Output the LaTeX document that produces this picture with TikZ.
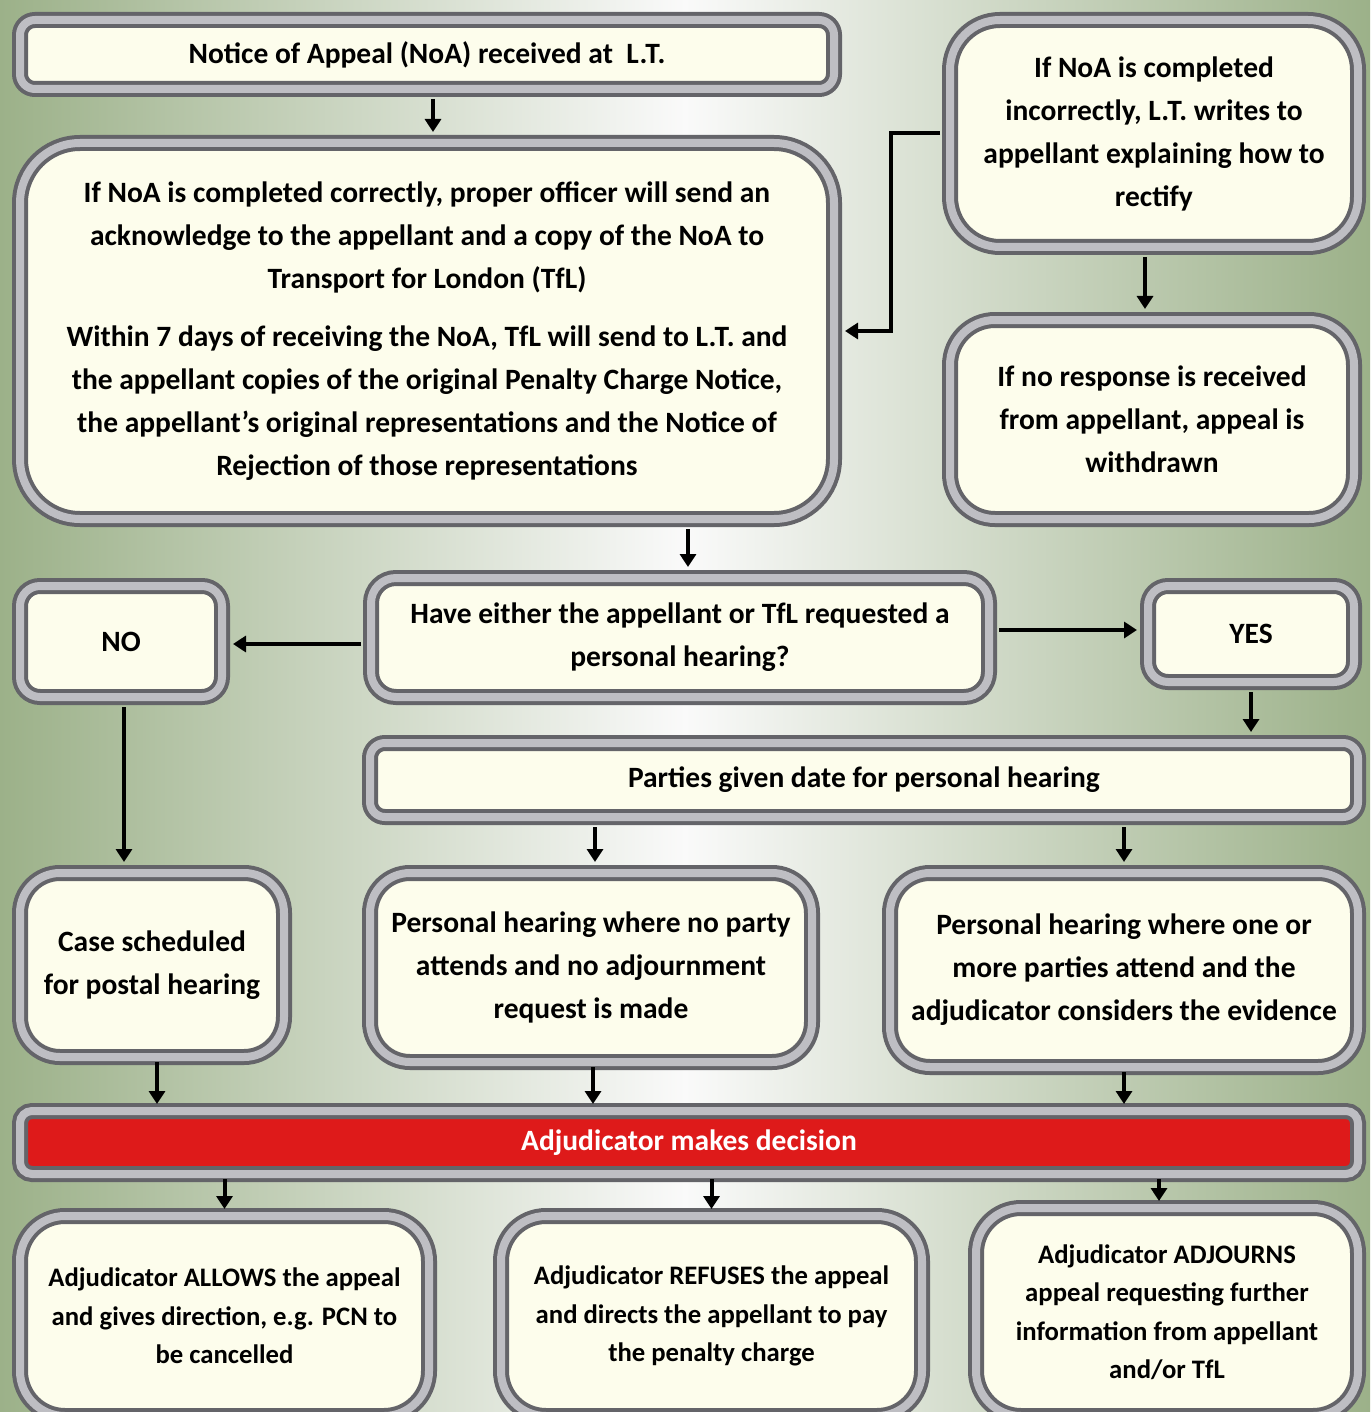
\documentclass[tikz,border=0pt]{standalone}
\usepackage{fontspec}
\setmainfont{Carlito}
\usetikzlibrary{arrows.meta}
\definecolor{bggreen}{RGB}{156,177,137}
\definecolor{cream}{RGB}{253,253,236}
\definecolor{rimdark}{RGB}{100,100,105}
\definecolor{rimlight}{RGB}{190,190,195}
\definecolor{decred}{RGB}{222,26,26}
\tikzset{
  box/.style={draw=rimdark,fill=cream,line width=4pt,double=rimlight,double distance=8pt,
    align=center,inner sep=0pt,font=\fontsize{29.5}{43}\selectfont\bfseries},
  lowbox/.style={box,font=\fontsize{26.7}{38.5}\selectfont\bfseries},
  arr/.style={line width=4pt,-{Triangle[width=16pt,length=13pt]},shorten <=8pt,shorten >=9pt},
  shortarr/.style={arr,shorten <=3pt,shorten >=5pt}
}
\begin{document}
\begin{tikzpicture}[x=1pt,y=-1pt]
  \useasboundingbox (0,0) rectangle (1370,1412);
  \clip (0,0) rectangle (1370,1412);
  \fill[left color=bggreen,right color=bggreen,middle color=white!96!gray] (0,0) rectangle (1370,1412);

  \node[box,rounded corners=15pt,minimum width=814pt,minimum height=69pt](noa)at(427,54.5){Notice of Appeal (NoA) received at\ \ L.T.};
  \node[box,rounded corners=60pt,minimum width=814pt,minimum height=376pt](correct)at(427,331){If NoA is completed correctly, proper officer will send an\\acknowledge to the appellant and a copy of the NoA to\\Transport for London (TfL)\\[15pt]Within 7 days of receiving the NoA, TfL will send to L.T. and\\the appellant copies of the original Penalty Charge Notice,\\the appellant’s original representations and the Notice of\\Rejection of those representations};
  \node[box,rounded corners=50pt,minimum width=408pt,minimum height=227pt](incorrect)at(1154,133.5){If NoA is completed\\incorrectly, L.T. writes to\\appellant explaining how to\\rectify};
  \node[box,rounded corners=45pt,minimum width=404pt,minimum height=199pt](noresp)at(1152,419.5){If no response is received\\from appellant, appeal is\\withdrawn};
  \node[box,rounded corners=25pt,minimum width=618pt,minimum height=119pt](question)at(680,637.5){Have either the appellant or TfL requested a\\personal hearing?};
  \node[box,rounded corners=20pt,minimum width=202pt,minimum height=111pt](no)at(121,641.5){NO};
  \node[box,rounded corners=20pt,minimum width=206pt,minimum height=96pt](yes)at(1251,634){YES};
  \node[box,rounded corners=15pt,minimum width=988pt,minimum height=74pt](parties)at(864,780){Parties given date for personal hearing};
  \node[box,rounded corners=40pt,minimum width=264pt,minimum height=184pt](postal)at(152,965){Case scheduled\\for postal hearing};
  \node[box,rounded corners=40pt,minimum width=442pt,minimum height=189pt](noparty)at(591,967.5){Personal hearing where no party\\attends and no adjournment\\request is made};
  \node[box,rounded corners=40pt,minimum width=468pt,minimum height=194pt](oneparty)at(1124,970){Personal hearing where one or\\more parties attend and the\\adjudicator considers the evidence};
  \node[box,fill=decred,text=white,rounded corners=12pt,minimum width=1338pt,minimum height=63pt](decision)at(689,1142.5){Adjudicator makes decision};
  \node[lowbox,rounded corners=45pt,minimum width=409pt,minimum height=200pt](allows)at(224.5,1316){Adjudicator ALLOWS the appeal\\and gives direction, e.g. PCN to\\be cancelled};
  \node[lowbox,rounded corners=45pt,minimum width=421pt,minimum height=200pt](refuses)at(711.5,1316){Adjudicator REFUSES the appeal\\and directs the appellant to pay\\the penalty charge};
  \node[lowbox,rounded corners=45pt,minimum width=382pt,minimum height=208pt](adjourns)at(1167,1312){Adjudicator ADJOURNS\\appeal requesting further\\information from appellant\\and/or TfL};

  \draw[arr]([xshift=6pt]noa.south)--([xshift=6pt]noa.south |- correct.north);
  \draw[arr](incorrect.west)--++(-57.5,0)|-(correct.east);
  \draw[arr]([xshift=-9pt]incorrect.south)--([xshift=-9pt]incorrect.south |- noresp.north);
  \draw[arr]([xshift=261pt]correct.south)--([xshift=261pt]correct.south |- question.north);
  \draw[arr]([yshift=-6.5pt]question.west)--([yshift=-6.5pt]question.west -| no.east);
  \draw[arr]([yshift=7.5pt]question.east)--([yshift=7.5pt]question.east -| yes.west);
  \draw[arr](yes.south)--(yes.south |- parties.north);
  \draw[arr]([xshift=3pt]no.south)--([xshift=3pt]no.south |- postal.north);
  \draw[arr]([xshift=4pt]noparty.north |- parties.south)--([xshift=4pt]noparty.north);
  \draw[arr](oneparty.north |- parties.south)--(oneparty.north);
  \draw[shortarr]([xshift=5pt]postal.south)--([xshift=5pt]postal.south |- decision.north);
  \draw[shortarr]([xshift=2pt]noparty.south)--([xshift=2pt]noparty.south |- decision.north);
  \draw[shortarr](oneparty.south)--(oneparty.south |- decision.north);
  \draw[shortarr](allows.north |- decision.south)--(allows.north);
  \draw[shortarr](refuses.north |- decision.south)--(refuses.north);
  \draw[shortarr]([xshift=-8pt]adjourns.north |- decision.south)--([xshift=-8pt]adjourns.north);
\end{tikzpicture}
\end{document}
